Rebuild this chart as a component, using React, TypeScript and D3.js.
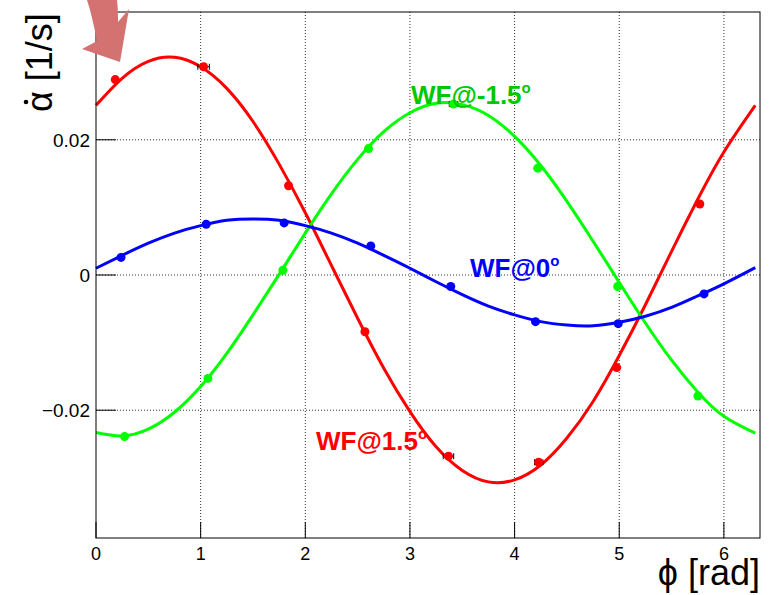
import React from 'react';
import * as d3 from 'd3';

// measured points (phi [rad], alpha-dot [1/s])
const redX = [0.184, 1.028, 1.84, 2.57, 3.368, 4.23, 4.976, 5.77];
const redY = [0.0289, 0.0308, 0.0132, -0.0084, -0.0268, -0.0277, -0.0137, 0.0105];
const redXErr = [0.02, 0.055, 0.02, 0.02, 0.05, 0.04, 0.02, 0.02];

const greenX = [0.273, 1.07, 1.786, 2.604, 3.416, 4.221, 4.985, 5.752];
const greenY = [-0.0239, -0.0153, 0.0007, 0.0187, 0.0253, 0.0158, -0.0017, -0.0179];
const greenXErr = [0.02, 0.02, 0.02, 0.02, 0.04, 0.02, 0.02, 0.02];

const blueX = [0.239, 1.053, 1.798, 2.626, 3.39, 4.2, 4.99, 5.81];
const blueY = [0.0026, 0.0075, 0.0077, 0.0043, -0.0017, -0.0069, -0.0072, -0.0028];
const blueXErr = [0.02, 0.02, 0.02, 0.02, 0.02, 0.02, 0.02, 0.02];

// fitted curves
const fitX = [0, 0.25, 0.5, 0.75, 1, 1.25, 1.5, 1.75, 2, 2.25, 2.5, 2.75, 3, 3.25, 3.5, 3.75, 4, 4.25, 4.5, 4.75, 5, 5.25, 5.5, 5.75, 6, 6.3];
const redFit = [0.0251, 0.0291, 0.0316, 0.0322, 0.0308, 0.0276, 0.0227, 0.0164, 0.0092, 0.0014, -0.0064, -0.0138, -0.0202, -0.0254, -0.0289, -0.0306, -0.0303, -0.0281, -0.0241, -0.0187, -0.0119, -0.0044, 0.0035, 0.0112, 0.0182, 0.0251];
const greenFit = [-0.0233, -0.0238, -0.0228, -0.0203, -0.0165, -0.0116, -0.0059, 0.0001, 0.0062, 0.012, 0.0171, 0.0212, 0.024, 0.0254, 0.0252, 0.0236, 0.0205, 0.0162, 0.0109, 0.005, -0.0011, -0.0071, -0.0126, -0.0173, -0.0209, -0.0234];
const blueFit = [0.001, 0.0029, 0.0047, 0.0062, 0.0073, 0.0081, 0.0083, 0.0081, 0.0073, 0.0062, 0.0047, 0.0029, 0.001, -0.001, -0.0029, -0.0046, -0.0059, -0.0069, -0.0074, -0.0075, -0.007, -0.0061, -0.0048, -0.0031, -0.0013, 0.0011];

const xTicks = [0, 1, 2, 3, 4, 5, 6];
const yTicks = [-0.02, 0, 0.02];

const W = 769, H = 595;
const left = 96, right = 760, top = 12, bottom = 538;

const x = d3.scaleLinear().domain([0, 6.345]).range([left, right]);
const y = d3.scaleLinear().domain([-0.0389, 0.0389]).range([bottom, top]);

const series = [
  { xs: redX, ys: redY, err: redXErr, fit: redFit, color: '#ff0000' },
  { xs: greenX, ys: greenY, err: greenXErr, fit: greenFit, color: '#00ff00' },
  { xs: blueX, ys: blueY, err: blueXErr, fit: blueFit, color: '#0000ff' },
];

const line = d3.line<number>()
  .x((_, i) => x(fitX[i]))
  .y((d) => y(d))
  .curve(d3.curveNatural);

const font = 'Liberation Sans, Arial, Helvetica, sans-serif';

function Label({ px, py, text, color }: { px: number; py: number; text: string; color: string }) {
  return (
    <text x={px} y={py} fill={color} fontFamily={font} fontWeight="bold" fontSize={26}>
      {text}
      <tspan fontSize={15} dy={-11}>o</tspan>
    </text>
  );
}

export default function App() {
  return (
    <svg width={W} height={H} style={{ position: 'absolute', left: 0, top: 0, background: '#fff' }}>
      <rect x={0} y={0} width={W} height={H} fill="#fff" />

      {/* grid */}
      {xTicks.filter((t) => t > 0).map((t) => (
        <line key={'gx' + t} x1={x(t)} x2={x(t)} y1={top} y2={bottom} stroke="#333" strokeDasharray="1,2" />
      ))}
      {yTicks.map((t) => (
        <line key={'gy' + t} x1={left} x2={right} y1={y(t)} y2={y(t)} stroke="#333" strokeDasharray="1,2" />
      ))}

      {/* fits */}
      {series.map((s, k) => (
        <path key={'f' + k} d={line(s.fit) || ''} fill="none" stroke={s.color} strokeWidth={3} />
      ))}

      {/* points */}
      {series.map((s, k) => (
        <g key={'p' + k}>
          {s.xs.map((v, i) => (
            <g key={i}>
              <line x1={x(v - s.err[i])} x2={x(v + s.err[i])} y1={y(s.ys[i])} y2={y(s.ys[i])} stroke="#000" />
              <line x1={x(v - s.err[i])} x2={x(v - s.err[i])} y1={y(s.ys[i]) - 3} y2={y(s.ys[i]) + 3} stroke="#000" />
              <line x1={x(v + s.err[i])} x2={x(v + s.err[i])} y1={y(s.ys[i]) - 3} y2={y(s.ys[i]) + 3} stroke="#000" />
              <circle cx={x(v)} cy={y(s.ys[i])} r={4.5} fill={s.color} />
            </g>
          ))}
        </g>
      ))}

      {/* frame and ticks */}
      <rect x={left} y={top} width={right - left} height={bottom - top} fill="none" stroke="#000" />
      {xTicks.map((t) => (
        <g key={'tx' + t}>
          <line x1={x(t)} x2={x(t)} y1={bottom} y2={bottom - 16} stroke="#000" />
          <text x={x(t)} y={560} textAnchor="middle" fontFamily={font} fontSize={18}>{t}</text>
        </g>
      ))}
      {yTicks.map((t) => (
        <g key={'ty' + t}>
          <line x1={left} x2={left + 20} y1={y(t)} y2={y(t)} stroke="#000" />
          <text x={90} y={y(t) + 7} textAnchor="end" fontFamily={font} fontSize={19}>
            {t === 0 ? '0' : (t < 0 ? '\u22120.02' : '0.02')}
          </text>
        </g>
      ))}

      {/* axis titles */}
      <text x={760} y={585} textAnchor="end" fontFamily={font} fontSize={36}>ϕ [rad]</text>
      <g transform="translate(52,112) rotate(-90)">
        <text x={0} y={0} fontFamily={font} fontSize={36}>α [1/s]</text>
        <circle cx={10} cy={-26} r={2.3} fill="#000" />
      </g>

      {/* curve labels */}
      <Label px={411} py={104} text="WF@-1.5" color="#00c800" />
      <Label px={470} py={277} text="WF@0" color="#0000ff" />
      <Label px={316} py={450} text="WF@1.5" color="#ff0000" />

      {/* pointer arrow */}
      <path
        d="M87,0 L117,0 C118,8 118,16 118,22 L129,9 L120,62 L82,49 L97,41 C94,26 91,12 87,0 Z"
        fill="#d47272"
      />
    </svg>
  );
}
